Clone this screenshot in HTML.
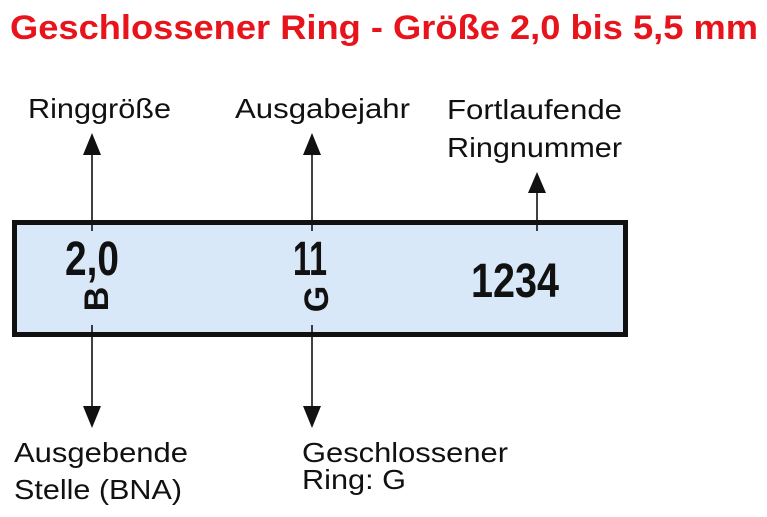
<!DOCTYPE html>
<html><head><meta charset="utf-8"><style>
html,body{margin:0;padding:0;background:#fff;}
body{width:767px;height:517px;position:relative;overflow:hidden;font-family:"Liberation Sans",sans-serif;}
</style></head><body>
<svg width="767" height="517" viewBox="0 0 767 517" xmlns="http://www.w3.org/2000/svg" style="position:absolute;left:0;top:0">
<text x="384" y="39" text-anchor="middle" font-family="Liberation Sans, sans-serif" font-weight="bold" font-size="34" fill="#e8141c" textLength="748" lengthAdjust="spacingAndGlyphs">Geschlossener Ring - Größe 2,0 bis 5,5 mm</text>
<g font-family="Liberation Sans, sans-serif" font-size="28" fill="#111">
<text x="28" y="118" textLength="143" lengthAdjust="spacingAndGlyphs">Ringgröße</text>
<text x="235" y="118" textLength="175" lengthAdjust="spacingAndGlyphs">Ausgabejahr</text>
<text x="447" y="119" textLength="175" lengthAdjust="spacingAndGlyphs">Fortlaufende</text>
<text x="447" y="157" textLength="175" lengthAdjust="spacingAndGlyphs">Ringnummer</text>
<text x="14" y="462" textLength="174" lengthAdjust="spacingAndGlyphs">Ausgebende</text>
<text x="14" y="499" textLength="168" lengthAdjust="spacingAndGlyphs">Stelle (BNA)</text>
<text x="302" y="462" textLength="206" lengthAdjust="spacingAndGlyphs">Geschlossener</text>
<text x="302" y="489" textLength="104" lengthAdjust="spacingAndGlyphs">Ring: G</text>
</g>
<rect x="14.5" y="222.5" width="611" height="112" fill="#d9e8f8" stroke="#111" stroke-width="5"/>
<g stroke="#111" stroke-width="1.6">
<line x1="92" y1="153" x2="92" y2="231"/>
<line x1="312" y1="153" x2="312" y2="231"/>
<line x1="537" y1="192" x2="537" y2="231"/>
<line x1="92" y1="325" x2="92" y2="408"/>
<line x1="312" y1="325" x2="312" y2="408"/>
</g>
<g fill="#111">
<polygon points="92,133 83,155 101,155"/>
<polygon points="312,133 303,155 321,155"/>
<polygon points="537,172 528,193 546,193"/>
<polygon points="92,428 83,406 101,406"/>
<polygon points="312,428 303,406 321,406"/>
</g>
<g font-family="Liberation Sans, sans-serif" font-weight="bold" fill="#111">
<text x="92" y="275" text-anchor="middle" font-size="48" textLength="54" lengthAdjust="spacingAndGlyphs">2,0</text>
<text x="310" y="275" text-anchor="middle" font-size="48" textLength="34" lengthAdjust="spacingAndGlyphs">11</text>
<text x="515" y="297" text-anchor="middle" font-size="48" textLength="88" lengthAdjust="spacingAndGlyphs">1234</text>
<text transform="translate(108,299) rotate(-90)" text-anchor="middle" font-size="34">B</text>
<text transform="translate(328,299) rotate(-90)" text-anchor="middle" font-size="34">G</text>
</g>
</svg>
</body></html>
